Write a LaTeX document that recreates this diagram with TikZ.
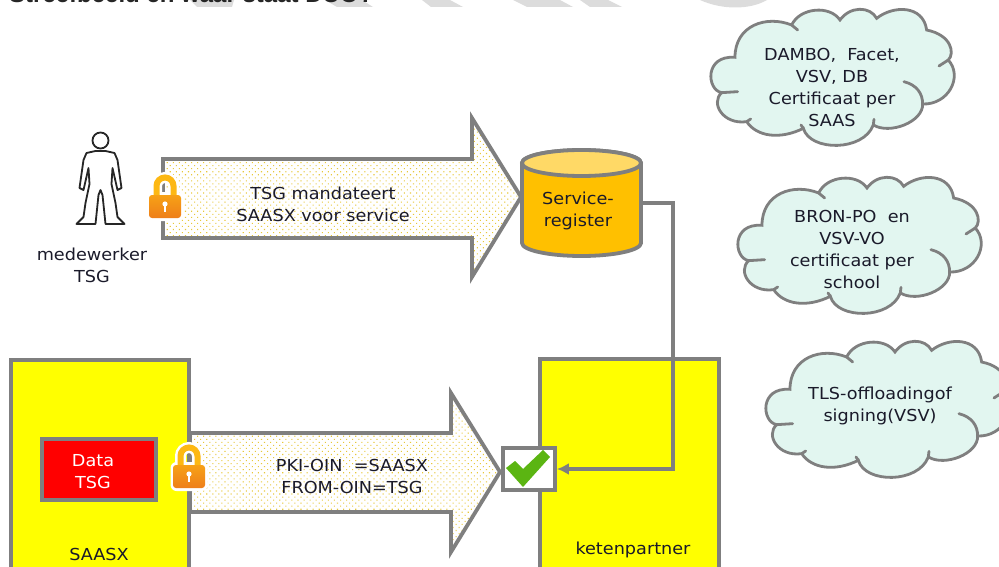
\documentclass[tikz,border=0pt]{standalone}
\usepackage{fontspec}
\setmainfont[FakeStretch=1.07]{DejaVu Sans}
\newfontfamily\titlefont{Liberation Sans}
\usetikzlibrary{patterns.meta,arrows.meta,calc}
\definecolor{edge}{HTML}{7F7F7F}
\definecolor{wm}{HTML}{DCDCDC}
\definecolor{cloudfill}{HTML}{E2F6F0}
\definecolor{inktxt}{HTML}{1A1A2A}
\definecolor{lockA}{HTML}{FDB813}
\definecolor{lockB}{HTML}{EE7F1A}
\definecolor{pureyellow}{HTML}{FFFF00}
\definecolor{purered}{HTML}{FF0000}
\definecolor{dbody}{HTML}{FFC000}
\definecolor{dtop}{HTML}{FFD966}
\definecolor{dots}{HTML}{E8C83A}
\definecolor{tick}{HTML}{5BB512}
\tikzset{
 x=1pt,y=-1pt,
 every node/.style={font=\fontsize{16.5}{22}\selectfont,text=inktxt,align=center,inner sep=0pt},
 frame/.style={draw=edge,line width=3.8pt},
 bigarrow/.style={frame,preaction={fill=white},preaction={pattern={Dots[distance=4.3pt,radius=0.75pt,angle=45]},pattern color=dots}},
 cloudshape/.style={draw=edge,line width=2.8pt,fill=cloudfill},
 cloudtail/.style={draw=edge,line width=2.8pt,line cap=round},
}
\newcommand{\mycloud}[2]{%
\begin{scope}[shift={(#1,#2)},x=0.3333pt,y=-0.3333pt]
\draw[cloudshape] (105,172) .. controls (105,75) and (200,45) .. (275,75)
 .. controls (300,22) and (390,15) .. (420,60)
 .. controls (450,18) and (510,18) .. (530,55)
 .. controls (580,15) and (670,15) .. (680,90)
 .. controls (755,105) and (765,160) .. (745,180)
 .. controls (790,230) and (745,315) .. (668,312)
 .. controls (670,365) and (570,405) .. (520,375)
 .. controls (490,455) and (330,455) .. (310,385)
 .. controls (240,420) and (170,410) .. (140,365)
 .. controls (70,375) and (30,310) .. (65,278)
 .. controls (20,270) and (12,165) .. (105,172) -- cycle;
\draw[cloudtail] (275,75) -- (293,90);
\draw[cloudtail] (745,180) -- (717,198);
\draw[cloudtail] (612,245) .. controls (650,255) and (668,280) .. (668,312);
\draw[cloudtail] (65,278) -- (113,275);
\draw[cloudtail] (520,375) -- (522,358);
\draw[cloudtail] (310,385) -- (303,375);
\draw[cloudtail] (140,365) -- (152,357);
\end{scope}}
\newcommand{\mylock}[2]{%
\begin{scope}[shift={(#1,#2)}]
\draw[white,line width=11pt,line cap=round] (-8.5,0) -- (-8.5,-9) arc (180:0:8.5pt and 8.5pt) -- (8.5,0);
\fill[white,rounded corners=6pt] (-18.5,-3) rectangle (18.5,26);
\draw[lockA,line width=6pt] (-8.5,2) -- (-8.5,-9) arc (180:0:8.5pt and 8.5pt) -- (8.5,2);
\shade[top color=lockA!60!lockB,bottom color=lockB,rounded corners=3pt] (-16,0) rectangle (16,23);
\fill[white] (0,9) circle (2.6);
\fill[white] (-1.3,9) rectangle (1.3,17);
\end{scope}}
\begin{document}
\begin{tikzpicture}
\useasboundingbox (0,0) rectangle (999,567);
\begin{scope}
\clip (0,0) rectangle (999,567);
% watermark
\fill[wm] (190,0) -- (234,0) -- (232,7) -- (197,7) -- cycle;
\fill[wm] (325,0) -- (362,0) -- (373,7) -- (337,7) -- cycle;
\fill[wm] (422,0) -- (450,0) -- (463,7) -- (431,7) -- cycle;
\fill[wm] (513,0) -- (560,0) -- (573,7) -- (527,7) -- cycle;
\fill[wm] (580,0) -- (608,0) -- (622,7) -- (590,7) -- cycle;
\fill[wm] (700,0) .. controls (722,10) and (750,10) .. (767,0) -- cycle;
% title
\node[anchor=base west,font=\fontsize{24}{26}\titlefont\bfseries\selectfont,text=black!85] (title) at (9,3) {Streefbeeld en waar staat DUO?};
% boxes
\draw[frame,fill=pureyellow] (11,360) rectangle (189,590);
\draw[frame,fill=pureyellow] (540,359) rectangle (719,590);
\node[minimum width=114pt,minimum height=61pt,draw=edge,line width=3.6pt,fill=purered] (data) at (99,469.5) {};
\node[text=white] (datal) at (93,472) {Data\\TSG};
\node (saasx) at (99,554) {SAASX};
\node (keten) at (633,550) {ketenpartner};
% arrows
\draw[bigarrow] (163,159) -- (472,159) -- (472,118) -- (521,197) -- (472,277) -- (472,238) -- (163,238) -- cycle;
\draw[bigarrow] (190,433) -- (451,433) -- (451,393) -- (500,472) -- (451,552) -- (451,512) -- (190,512) -- cycle;
\node (t1) at (323,204.5) {TSG mandateert\\SAASX voor service};
\node (t2) at (352,476) {PKI-OIN\ \ =SAASX\\FROM-OIN=TSG};
% cylinder
\draw[frame,fill=dbody] (522,163) -- (522,243) arc (180:360:59.5pt and 13pt) -- (641,163) arc (0:180:59.5pt and 13pt) -- cycle;
\draw[frame,fill=dtop] (581.5,163) ellipse (59.5pt and 13pt);
\coordinate (cylr) at (641,203);
\coordinate (elbow) at (673,203);
\node (svc) at (578,210.5) {Service-\\register};
% check
\node[minimum width=52pt,minimum height=42pt,draw=edge,line width=3.8pt,fill=white] (check) at (529,469) {};
\fill[tick] (506,468) -- (515,461) -- (523,469) -- (543,450) -- (550,457) -- (523,487) -- cycle;
\draw[edge,line width=3.2pt,-{Latex[length=12pt,width=12pt]}] (cylr) -- (elbow) |- (check.east);
% locks
\mylock{165}{195}
\mylock{189}{465}
% person
\begin{scope}[shift={(100.5,0)}]
\draw[black!85,line width=1.8pt,fill=white] (0,140.5) circle (8);
\draw[black!85,line width=1.8pt,fill=white,line join=round]
 (-5,151) -- (-14,153) -- (-17,160) -- (-21,188) -- (-17,190) -- (-12,168) -- (-11,184) -- (-15,203) -- (-17,217) -- (-24,224) -- (-5,224) -- (-2,195) -- (0,190) -- (2,195) -- (5,224) -- (24,224) -- (17,217) -- (15,203) -- (11,184) -- (12,168) -- (17,190) -- (21,188) -- (17,160) -- (14,153) -- (5,151) -- cycle;
\end{scope}
\node (med) at (92,265.5) {medewerker\\TSG};
% clouds
\mycloud{700}{0}
\mycloud{727}{168}
\mycloud{755}{332}
\node (c1) at (832,87.5) {DAMBO,\ \ Facet,\\VSV, DB\\Certificaat per\\SAAS};
\node (c2) at (852,249) {BRON-PO\ \ en\\VSV-VO\\certificaat per\\school};
\node (c3) at (880,406) {TLS-offloadingof\\signing(VSV)};
\end{scope}
\end{tikzpicture}
\end{document}
